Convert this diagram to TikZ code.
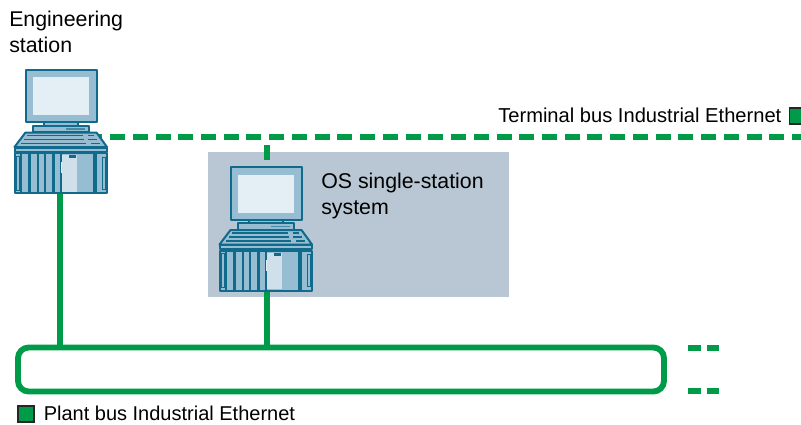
\documentclass[tikz,border=0pt]{standalone}
\usepackage{fontspec}
\setmainfont{Liberation Sans}
\definecolor{busgreen}{HTML}{009B48}
\definecolor{stline}{HTML}{0F6A8B}
\definecolor{stfill}{HTML}{97BDD3}
\definecolor{stscreen}{HTML}{E3EFF5}
\definecolor{stpanel}{HTML}{D0E0EA}
\definecolor{osgrey}{HTML}{B8C7D3}
\tikzset{
  busline/.style={busgreen,line width=4pt},
  busdash/.style={busline,dash pattern=on 11.25pt off 5.8pt},
  stpart/.style={draw=stline,fill=stfill,line width=1.5pt,line join=round},
  stdetail/.style={stline,line width=0.9pt},
  stbar/.style={fill=stline,draw=none},
  label/.style={inner sep=0pt,anchor=base west,align=left,font=\fontsize{16}{19.5}\selectfont},
  legendtext/.style={inner sep=0pt,anchor=base west,font=\fontsize{15.1}{18}\selectfont},
  planttextstyle/.style={inner sep=0pt,anchor=base west,font=\fontsize{15}{18}\selectfont},
  legendbox/.style={draw=black!85,fill=busgreen,line width=1pt,inner sep=0pt,minimum size=12pt,outer sep=0pt,anchor=north west},
  station/.pic={
    \draw[stpart] (25.5,69.5) rectangle (96.5,122);
    \fill[stscreen] (33,77) rectangle (89,115);
    \draw[stpart] (44,122) rectangle (78,125.5);
    \draw[stpart] (33,125.5) rectangle (89,132);
    \draw[stline!60!stfill,line width=1pt] (66,129) -- (85,129);
    \draw[stpart] (25.5,132.5) -- (96.5,132.5) -- (107,147) -- (14.5,147) -- cycle;
    \draw[stdetail] (27,135.5) -- (83,135.5) (88,135.5) -- (94,135.5);
    \draw[stdetail] (24,139.5) -- (84,139.5) (88,139.5) -- (97,139.5);
    \draw[stdetail] (21,143.5) -- (86,143.5) (91,143.5) -- (100,143.5);
    \draw[stpart] (14.5,147.5) rectangle (107,151.5);
    \draw[stpart] (14.5,153) rectangle (107,193);
    \fill[stpanel] (62,155) rectangle (77,191.5);
    \foreach \xa in {20,28.3,36.7,44,52.3,60}{\fill[stbar] (\xa,153) rectangle (\xa+2.4,193);}
    \fill[stbar] (93,153) rectangle (96.5,193);
    \fill[stbar] (69,155) rectangle (76,158);
    \draw[stline,line width=0.7pt] (16.5,156) rectangle (19,190);
    \draw[stline,line width=0.7pt] (102,157) rectangle (105,189);
    \fill[stscreen] (61,162) rectangle (62,173);
  }
}
\begin{document}
\begin{tikzpicture}[x=0.75pt,y=-0.75pt]
\useasboundingbox (0,0) rectangle (801,425);
\clip (0,0) rectangle (801,425);
\node[fill=osgrey,inner sep=0pt,outer sep=0pt,minimum width=225.75pt,minimum height=108.75pt,anchor=north west] (osbox) at (208,152) {};
\node[draw=busgreen,line width=4.4pt,rounded corners=8pt,inner sep=0pt,outer sep=0pt,minimum width=484.5pt,minimum height=33pt,anchor=north west] (plantbus) at (18,347.5) {};
\coordinate (termL) at (87.3,137);
\coordinate (termR) at (801,137);
\draw[busdash] (termL) -- (termR);
\coordinate (tapA) at (60,190);
\coordinate (tapB) at (267,290);
\draw[busline] (tapA) -- (tapA |- plantbus.north);
\draw[busline] (tapB) -- (tapB |- plantbus.north);
\coordinate (stubT) at (267,145);
\coordinate (stubB) at (267,160);
\draw[busline] (stubT) -- (stubB);
\pic (eng) at (0,0) {station};
\pic (os) at (205,97.5) {station};
\coordinate (contA1) at (688,348);
\coordinate (contA2) at (719,348);
\coordinate (contB1) at (688,391);
\coordinate (contB2) at (719,391);
\draw[busline,dash pattern=on 9.75pt off 4.5pt] (contA1) -- (contA2);
\draw[busline,dash pattern=on 9.75pt off 4.5pt] (contB1) -- (contB2);
\node[label] (englabel) at (9,52) {Engineering\\station};
\node[label] (oslabel) at (321,214) {OS single-station\\system};
\node[legendtext] (termtext) at (498,122) {Terminal bus Industrial Ethernet};
\node[legendbox] (termbox) at (789.5,108) {};
\node[legendbox] (plantboxlegend) at (18,406) {};
\node[planttextstyle] (planttext) at (43.5,420) {Plant bus Industrial Ethernet};
\end{tikzpicture}
\end{document}
